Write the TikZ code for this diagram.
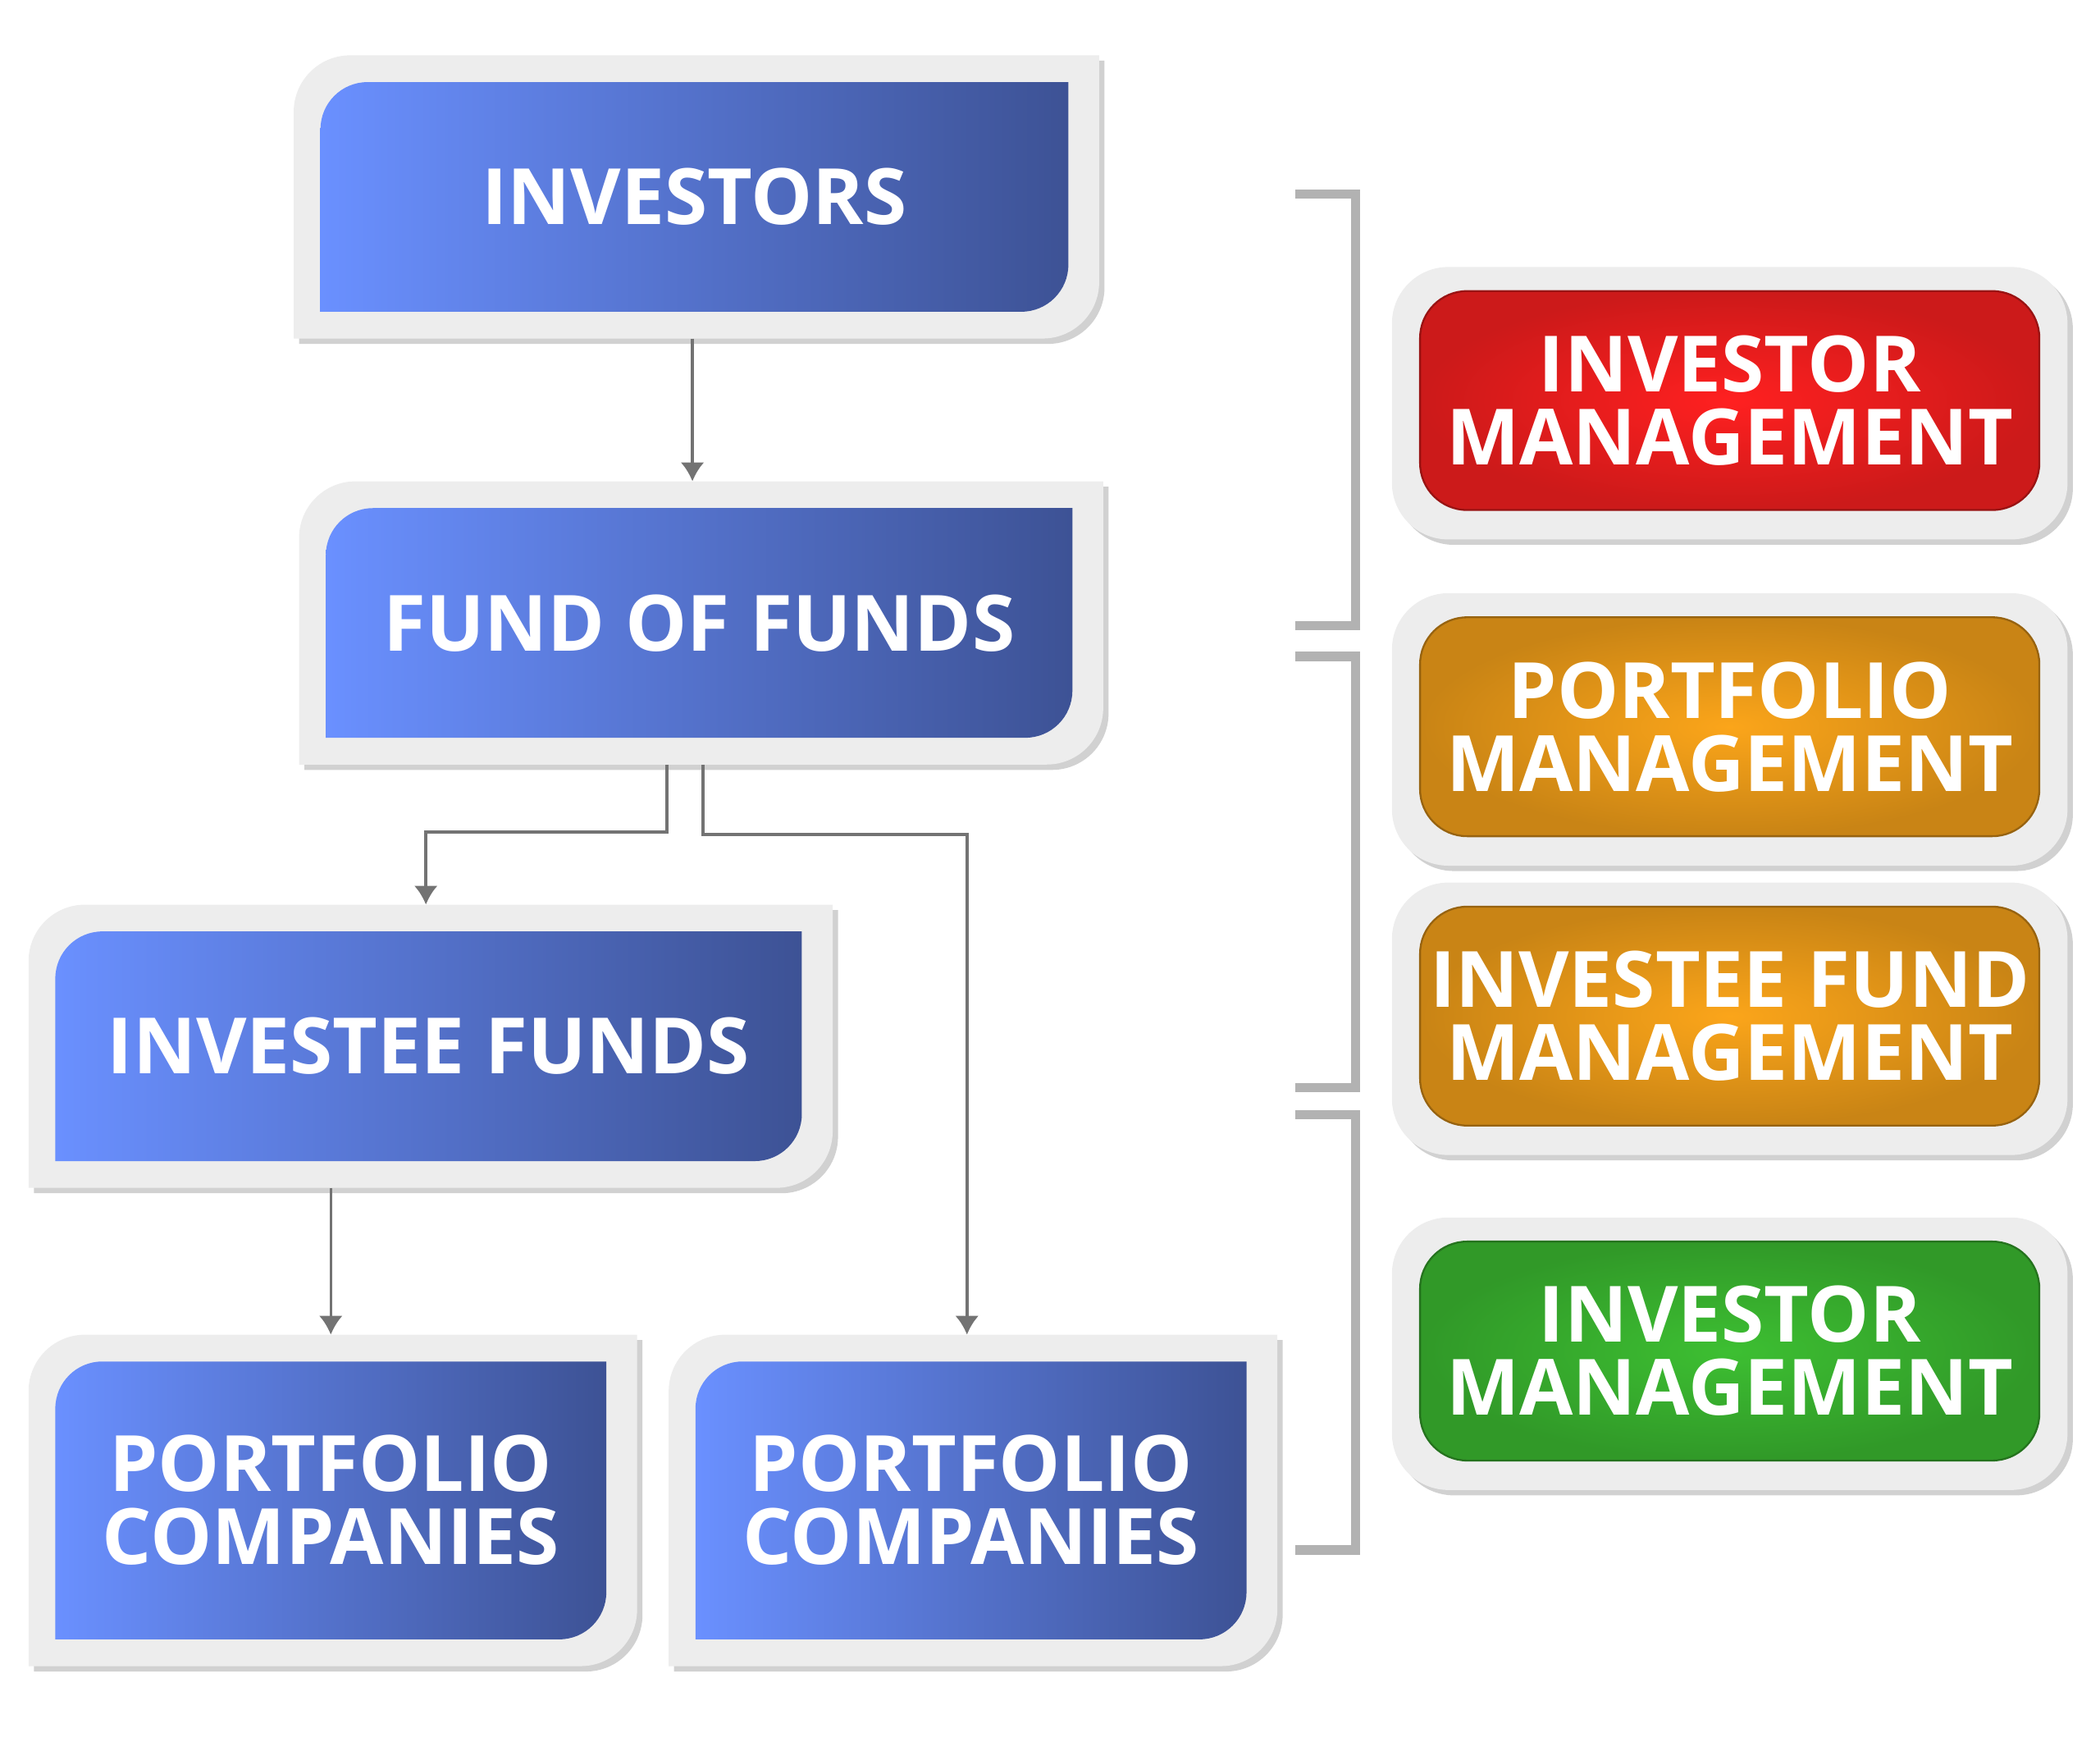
\documentclass[tikz,border=0pt]{standalone}
\usepackage{fontspec}
\setmainfont{Open Sans}
\definecolor{frame}{HTML}{EDEDED}
\definecolor{blueL}{HTML}{6A90FF}
\definecolor{blueR}{HTML}{3D5295}
\definecolor{mred}{HTML}{FF2020}
\definecolor{morange}{HTML}{FBA51A}
\definecolor{mgreen}{HTML}{3DBF32}
\tikzset{
  label/.style={text=white, font=\bfseries\fontsize{16.5}{15.5}\selectfont, align=center},
  link/.style={draw=gray!90!black, line width=0.6pt, -{Latex[length=4pt,width=5pt]}},
  brace/.style={draw=gray!60, line width=2pt}
}
\usetikzlibrary{arrows.meta}
% blue stage: name, cx, cy, w, h, text
\newcommand\stagebox[6]{%
  \node[minimum width=#4cm, minimum height=#5cm, inner sep=0pt] (#1) at (#2,#3) {};
  \fill[black!18] ([shift={(0.04,-0.04)}]#1.south west) [rounded corners=12pt] -- ([shift={(0.04,-0.04)}]#1.north west) [sharp corners] -- ([shift={(0.04,-0.04)}]#1.north east) [rounded corners=12pt] -- ([shift={(0.04,-0.04)}]#1.south east) [sharp corners] -- cycle;
  \fill[frame] (#1.south west) [rounded corners=12pt] -- (#1.north west) [sharp corners] -- (#1.north east) [rounded corners=12pt] -- (#1.south east) [sharp corners] -- cycle;
  \shade[left color=blueL, right color=blueR] ([shift={(0.2,0.2)}]#1.south west) [rounded corners=10pt] -- ([shift={(0.2,-0.2)}]#1.north west) [sharp corners] -- ([shift={(-0.23,-0.2)}]#1.north east) [rounded corners=10pt] -- ([shift={(-0.23,0.2)}]#1.south east) [sharp corners] -- cycle;
  \node[label] (#1-t) at ([xshift=-0.015cm]#1.center) {#6};
}
% management box: name, cy, colour, text
\newcommand\mgmtbox[4]{%
  \node[minimum width=5.03cm, minimum height=2.02cm, inner sep=0pt] (#1) at (12.915,#2) {};
  \fill[black!18, rounded corners=12pt] ([shift={(0.04,-0.04)}]#1.south west) rectangle ([shift={(0.04,-0.04)}]#1.north east);
  \fill[frame, rounded corners=12pt] (#1.south west) rectangle (#1.north east);
  \shade[inner color=#3, outer color=#3!80!black, draw=#3!60!black, line width=0.4pt, rounded corners=10pt] ([shift={(0.21,0.22)}]#1.south west) rectangle ([shift={(-0.21,-0.18)}]#1.north east);
  \node[label] (#1-t) at ([yshift=0.02cm]#1.center) {#4};
}
\begin{document}
\begin{tikzpicture}
  \useasboundingbox (0,0) rectangle (15.68,-13.0);

  % Stages
  \stagebox{investors}{5.2}{-1.47}{6.0}{2.1}{INVESTORS}
  \stagebox{fof}{5.235}{-4.65}{5.99}{2.1}{FUND OF FUNDS}
  \stagebox{investee}{3.215}{-7.81}{5.99}{2.1}{INVESTEE FUNDS}
  \stagebox{pcleft}{2.485}{-11.2}{4.53}{2.46}{PORTFOLIO\\COMPANIES}
  \stagebox{pcright}{7.265}{-11.2}{4.53}{2.46}{PORTFOLIO\\COMPANIES}

  % Management
  \mgmtbox{invmgmt}{-3.01}{mred}{INVESTOR\\MANAGEMENT}
  \mgmtbox{portmgmt}{-5.445}{morange}{PORTFOLIO\\MANAGEMENT}
  \mgmtbox{fundmgmt}{-7.605}{morange}{INVESTEE FUND\\MANAGEMENT}
  \mgmtbox{invmgmt2}{-10.105}{mgreen}{INVESTOR\\MANAGEMENT}

  % Links
  \draw[link] (investors.south -| 5.17,0) -- (fof.north -| 5.17,0);
  \draw[link] (fof.south -| 4.98,0) |- (3.18,-6.21) -- (investee.north -| 3.18,0);
  \draw[link] (fof.south -| 5.25,0) |- (7.22,-6.23) -- (pcright.north -| 7.22,0);
  \draw[link] (investee.south -| 2.47,0) -- (pcleft.north -| 2.47,0);

  % Brackets
  \coordinate (b1) at (9.67,-1.45);
  \coordinate (b2) at (9.67,-4.9);
  \coordinate (b3) at (9.67,-8.32);
  \draw[brace] (b1) -| (10.12,-4.67) -- (9.67,-4.67);
  \draw[brace] (b2) -| (10.12,-8.12) -- (9.67,-8.12);
  \draw[brace] (b3) -| (10.12,-11.57) -- (9.67,-11.57);
\end{tikzpicture}
\end{document}
